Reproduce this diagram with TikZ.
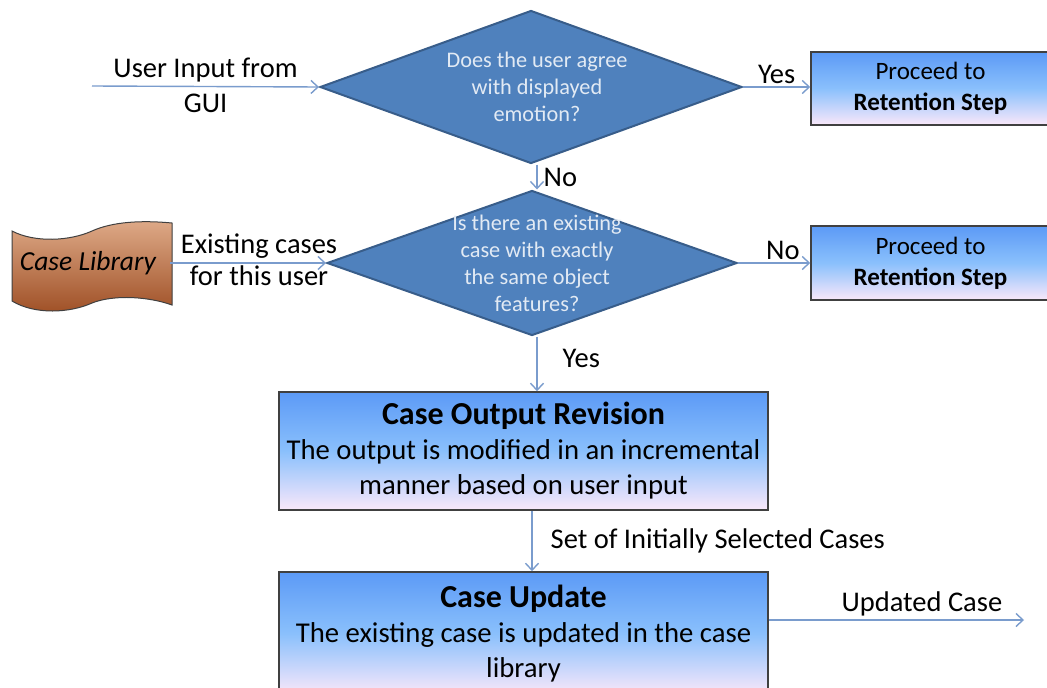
\documentclass[tikz,border=0pt]{standalone}
\usepackage{fontspec}
\setmainfont{Carlito}
\usetikzlibrary{arrows.meta,shapes.geometric}

\definecolor{flowline}{RGB}{122,156,205}
\definecolor{decfill}{RGB}{79,129,189}
\definecolor{decedge}{RGB}{56,93,138}
\definecolor{dectext}{RGB}{226,234,244}
\definecolor{boxtop}{RGB}{92,154,246}
\definecolor{boxmid}{RGB}{138,192,252}
\definecolor{boxbot}{RGB}{250,232,250}
\definecolor{boxedge}{RGB}{64,64,64}
\definecolor{libtop}{RGB}{222,170,136}
\definecolor{libbot}{RGB}{158,78,36}

\tikzset{
  flow/.style={draw=flowline, line width=1.4pt, -{Straight Barb[length=7pt,width=13pt]}},
  decision/.style={diamond, draw=decedge, line width=2pt, fill=decfill, inner sep=0pt},
  dectxt/.style={text=dectext, align=center, font=\fontsize{22.3}{27}\selectfont},
  procbox/.style={rectangle, draw=boxedge, line width=1.5pt, top color=boxtop, bottom color=boxbot, middle color=boxmid, align=center, inner sep=0pt},
  edgelbl/.style={font=\fontsize{28.5}{34}\selectfont, text=black, align=center},
}

\begin{document}
\begin{tikzpicture}[x=1pt,y=-1pt]
\clip (0,0) rectangle (1047,688);
\fill[white] (0,0) rectangle (1047,688);

% decisions
\node[decision, minimum width=422pt, minimum height=153pt] (d1) at (531,87) {};
\node[dectxt] (d1t) at (537,87) {Does the user agree\\with displayed\\emotion?};
\node[decision, minimum width=410pt, minimum height=145pt] (d2) at (532,263) {};
\node[dectxt] (d2t) at (537,263) {Is there an existing\\case with exactly\\the same object\\features?};

% retention boxes
\node[procbox, minimum width=239pt, minimum height=73pt, font=\fontsize{25}{31}\selectfont] (r1) at (930.5,88.5) {Proceed to\\\textbf{Retention Step}};
\node[procbox, minimum width=239pt, minimum height=74pt, font=\fontsize{25}{31}\selectfont] (r2) at (930.5,263) {Proceed to\\\textbf{Retention Step}};

% process boxes
\node[procbox, minimum width=489pt, minimum height=118pt, font=\fontsize{28.7}{35}\selectfont] (b3) at (523.5,451)
  {{\fontsize{32}{36}\selectfont\textbf{Case Output Revision}}\\The output is modified in an incremental\\manner based on user input};
\node[procbox, minimum width=489pt, minimum height=123pt, font=\fontsize{28.7}{35}\selectfont] (b4) at (523.5,633.5)
  {{\fontsize{32}{36}\selectfont\textbf{Case Update}}\\The existing case is updated in the case\\library};

% case library store
\shadedraw[top color=libtop, bottom color=libbot, draw=boxedge, line width=1pt]
  (12,231) .. controls (35,243) and (70,241) .. (92,231)
  .. controls (112,222) and (140,220) .. (172,223)
  -- (172,305)
  .. controls (150,297) and (115,294) .. (92,303)
  .. controls (70,313) and (35,315) .. (12,301) -- cycle;
\node[minimum width=160pt, minimum height=60pt, inner sep=0pt, font=\fontsize{27.5}{30}\selectfont\itshape] (lib) at (88,263) {Case Library};

% free ends
\coordinate (guiin) at (92,86);
\coordinate (upout) at (1024,620);

% connectors
\draw[flow] (guiin) -- (d1.west)
  node[edgelbl, midway, above, inner sep=4pt] {User Input from}
  node[edgelbl, midway, below, inner sep=7pt] {GUI};
\draw[flow] (d1.east) -- (r1.west |- d1.east)
  node[edgelbl, midway, above, inner sep=3pt] {Yes};
\draw[flow] (d1t |- d1.south) -- (d1t |- d2.north)
  node[edgelbl, midway, right, inner sep=6pt] {No};
\draw[flow] ([xshift=2pt]lib.east) -- (d2.west)
  node[edgelbl, pos=0.57, above, inner sep=4pt] {Existing cases}
  node[edgelbl, pos=0.57, below, inner sep=2pt] {for this user};
\draw[flow] (d2.east) -- (r2.west |- d2.east)
  node[edgelbl, pos=0.62, above, inner sep=3pt] {No};
\draw[flow] (d2t |- d2.south) -- (d2t |- b3.north)
  node[edgelbl, pos=0.4, right, inner sep=25pt] {Yes};
\draw[flow] ([xshift=8.5pt]b3.south) -- ([xshift=8.5pt]b4.north)
  node[edgelbl, midway, right, inner sep=18pt] {Set of Initially Selected Cases};
\draw[flow] (b4.east |- upout) -- (upout)
  node[edgelbl, pos=0.6, above, inner sep=3pt] {Updated Case};
\end{tikzpicture}
\end{document}
